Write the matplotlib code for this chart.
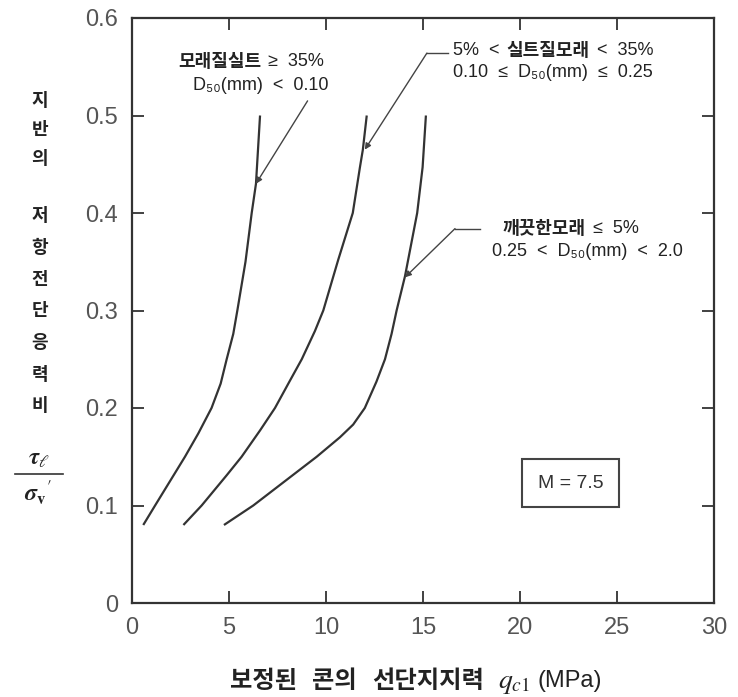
import matplotlib
matplotlib.use("Agg")
import matplotlib.pyplot as plt
from matplotlib.lines import Line2D

plt.rcParams['mathtext.fontset'] = 'stix'

# curve data (q_c1 in MPa, stress ratio)
silt_q = [0.58, 1.19, 2.73, 3.42, 4.1, 4.57, 4.88, 5.22, 5.43, 5.85, 6.17, 6.39, 6.6]
silt_r = [0.08, 0.10, 0.15, 0.174, 0.20, 0.225, 0.25, 0.276, 0.30, 0.35, 0.40, 0.43, 0.50]
silty_sand_q = [2.65, 3.59, 4.88, 5.65, 6.6, 7.37, 8.14, 8.75, 9.43, 9.86, 10.63, 11.38, 11.75, 11.9, 12.1]
silty_sand_r = [0.08, 0.10, 0.131, 0.15, 0.177, 0.20, 0.228, 0.25, 0.279, 0.30, 0.352, 0.40, 0.447, 0.465, 0.50]
clean_sand_q = [4.74, 6.25, 9.52, 10.72, 11.4, 12.0, 12.6, 13.04, 13.38, 13.64, 14.07, 14.7, 14.98, 15.15]
clean_sand_r = [0.08, 0.10, 0.15, 0.17, 0.183, 0.20, 0.227, 0.25, 0.276, 0.30, 0.335, 0.40, 0.447, 0.50]

x_ticks = [0, 5, 10, 15, 20, 25, 30]
y_ticks = [0, 0.1, 0.2, 0.3, 0.4, 0.5, 0.6]

# annotation lines: (text, korean?) pieces
silt_line1 = [("모래질실트", True), ("≥  35%", False)]
silt_line2 = "D₅₀(mm)  <  0.10"
silty_line1 = [("5%  <", False), ("실트질모래", True), ("<  35%", False)]
silty_line2 = "0.10  ≤  D₅₀(mm)  ≤  0.25"
clean_line1 = [("깨끗한모래", True), ("≤  5%", False)]
clean_line2 = "0.25  <  D₅₀(mm)  <  2.0"

ylabel_top = ["지", "반", "의"]
ylabel_bottom = ["저", "항", "전", "단", "응", "력", "비"]
xlabel_words = ["보정된", "콘의", "선단지지력"]

W, H = 738, 697
fig = plt.figure(figsize=(W / 100, H / 100), dpi=100)
ax = fig.add_axes([132 / W, 94 / H, 582 / W, 585 / H])

line_color = '#333333'
for q, r in [(silt_q, silt_r), (silty_sand_q, silty_sand_r), (clean_sand_q, clean_sand_r)]:
    ax.plot(q, r, color=line_color, lw=1.6, solid_capstyle='butt', solid_joinstyle='round')

ax.set_xlim(0, 30)
ax.set_ylim(0, 0.6)
ax.set_xticks(x_ticks)
ax.set_yticks(y_ticks)
ax.set_xticklabels([f"{v:g}" for v in x_ticks])
ax.set_yticklabels([f"{v:g}" for v in y_ticks])
ax.tick_params(direction='in', length=8.5, width=1.3, top=True, right=True,
               labelsize=17, labelcolor='#555555', color='#333333', pad=10)
for lab in ax.get_xticklabels() + ax.get_yticklabels():
    lab.set_family('Liberation Sans')
for s in ax.spines.values():
    s.set_linewidth(1.6)
    s.set_color('#333333')

txt_font = ['Liberation Sans', 'Noto Sans CJK KR', 'DejaVu Sans']
kr = ['Noto Sans CJK KR', 'DejaVu Sans']


def chain(pieces, x, y, size=13, gap=5):
    prev = None
    for text, korean in pieces:
        kw = dict(fontsize=size, color='#222222', va='center',
                  family=kr if korean else txt_font,
                  weight='bold' if korean else 'normal')
        if prev is None:
            prev = ax.text(x, y, text, ha='left', **kw)
        else:
            prev = ax.annotate(text, xy=(1, 0.5), xycoords=prev, xytext=(gap, 0),
                               textcoords='offset points', ha='left',
                               annotation_clip=False, **kw)
    return prev


def plain(text, x, y, size=13):
    ax.text(x, y, text, ha='left', va='center', fontsize=size,
            family=txt_font, color='#222222')


arrow = dict(arrowstyle='-|>', mutation_scale=9, lw=1.0, color='#444444',
             shrinkA=0, shrinkB=0)

# annotation 1 (silt)
chain(silt_line1, 2.37, 0.555)
plain(silt_line2, 3.15, 0.531)
ax.annotate('', xy=(6.39, 0.43), xytext=(9.05, 0.515), arrowprops=arrow)

# annotation 2 (silty sand)
chain(silty_line1, 16.55, 0.567)
plain(silty_line2, 16.55, 0.5436)
ax.plot([15.2, 16.3], [0.564, 0.564], color='#444444', lw=1.0)
ax.annotate('', xy=(12.0, 0.465), xytext=(15.2, 0.564), arrowprops=arrow)

# annotation 3 (clean sand)
chain(clean_line1, 19.12, 0.3846)
plain(clean_line2, 18.56, 0.36)
ax.plot([16.65, 17.94], [0.384, 0.384], color='#444444', lw=1.0)
ax.annotate('', xy=(14.07, 0.334), xytext=(16.65, 0.384), arrowprops=arrow)

# magnitude box
ax.text(22.6, 0.123, 'M = 7.5', ha='center', va='center', fontsize=14,
        family='Liberation Sans', color='#333333',
        bbox=dict(boxstyle='square,pad=0.8', fc='white', ec='#444444', lw=1.5))

# vertical y label
for i, ch in enumerate(ylabel_top):
    fig.text(40 / W, 1 - (101 + 29 * i) / H, ch, ha='center', va='center',
             fontsize=13, family=kr, weight='bold', color='#222222')
for i, ch in enumerate(ylabel_bottom):
    fig.text(40 / W, 1 - (216 + 31.6 * i) / H, ch, ha='center', va='center',
             fontsize=13, family=kr, weight='bold', color='#222222')
fig.text(39 / W, 1 - 458 / H, r'$\boldsymbol{\tau}_{\ell}$', ha='center', va='center',
         fontsize=17, color='#222222')
fig.add_artist(Line2D([15 / W, 63 / W], [1 - 474 / H, 1 - 474 / H],
                      transform=fig.transFigure, color='#333333', lw=1.2))
fig.text(38 / W, 1 - 493 / H, r"$\boldsymbol{\sigma}_{\mathbf{v}}{}^{\prime}$", ha='center',
         va='center', fontsize=17, color='#222222')

# x label in pieces (Korean words, math symbol, unit)
prev = fig.text(230 / W, 1 - 681 / H, xlabel_words[0], ha='left', va='center',
                fontsize=17.5, family=kr, weight='bold', color='#222222')
for w in xlabel_words[1:]:
    prev = ax.annotate(w, xy=(1, 0.5), xycoords=prev, xytext=(11, 0),
                       textcoords='offset points', ha='left', va='center',
                       fontsize=17.5, family=kr, weight='bold', color='#222222',
                       annotation_clip=False)
prev = ax.annotate(r'$q_{c1}$', xy=(1, 0.5), xycoords=prev, xytext=(10, -1),
                   textcoords='offset points', ha='left', va='center', fontsize=20,
                   color='#222222', annotation_clip=False)
ax.annotate('(MPa)', xy=(1, 0.5), xycoords=prev, xytext=(5, 1),
            textcoords='offset points', ha='left', va='center', fontsize=17,
            family='Liberation Sans', color='#222222', annotation_clip=False)

fig.savefig('out.png', dpi=100, facecolor='white')
